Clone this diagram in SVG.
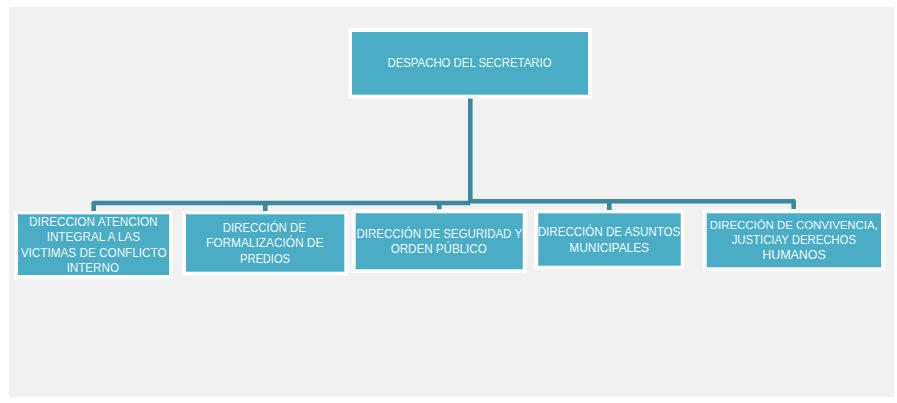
<svg xmlns="http://www.w3.org/2000/svg" width="897" height="403" viewBox="0 0 897 403">
<defs>
<style>
.bg{fill:#f1f1f1}
.frame{fill:#ffffff}
.box{fill:#4bacc6}
.lbl{font-family:"Liberation Sans",Arial,sans-serif;font-size:13px;fill:#eef8fb;text-anchor:middle}
.conn{fill:none;stroke:#3a899f;stroke-width:4.6;stroke-linejoin:round;stroke-linecap:butt}
</style>
</defs>
<rect class="bg" x="9" y="7" width="885" height="390"/>
<g id="connectors">
<path class="conn" d="M470.3,98 V203"/>
<path class="conn" d="M93.7,211 V203 H470.3"/>
<path class="conn" d="M470.3,201.2 H793.7 V209"/>
<path class="conn" d="M265.3,203 V211"/>
<path class="conn" d="M439.3,203 V210"/>
<path class="conn" d="M609.3,201.2 V210"/>
</g>
<g id="despacho">
<rect class="frame" x="348" y="28" width="244" height="70.5"/>
<rect class="box" x="352" y="32" width="236" height="62.7"/>
<text class="lbl" x="469.5" y="67.3" textLength="164" lengthAdjust="spacingAndGlyphs">DESPACHO DEL SECRETARIO</text>
</g>
<g id="victimas">
<rect class="frame" x="14" y="211" width="158.7" height="68.3"/>
<rect class="box" x="18" y="214.3" width="151" height="60.7"/>
<text class="lbl" x="93.3" y="225.6" textLength="128.7" lengthAdjust="spacingAndGlyphs">DIRECCION ATENCION</text>
<text class="lbl" x="93.3" y="241" textLength="93.3" lengthAdjust="spacingAndGlyphs">INTEGRAL A LAS</text>
<text class="lbl" x="93.7" y="256.7" textLength="146" lengthAdjust="spacingAndGlyphs">VICTIMAS DE CONFLICTO</text>
<text class="lbl" x="92.8" y="272.3" textLength="52.3" lengthAdjust="spacingAndGlyphs">INTERNO</text>
</g>
<g id="formalizacion">
<rect class="frame" x="182.3" y="211" width="166" height="64.7"/>
<rect class="box" x="186" y="214.3" width="158.3" height="57.4"/>
<text class="lbl" x="264.3" y="231.7" textLength="83.3" lengthAdjust="spacingAndGlyphs">DIRECCIÓN DE</text>
<text class="lbl" x="264.7" y="246.7" textLength="117.3" lengthAdjust="spacingAndGlyphs">FORMALIZACIÓN DE</text>
<text class="lbl" x="265" y="262.7" textLength="50" lengthAdjust="spacingAndGlyphs">PREDIOS</text>
</g>
<g id="seguridad">
<rect class="frame" x="351.7" y="209.3" width="175" height="64"/>
<rect class="box" x="355.7" y="213.3" width="167" height="56"/>
<text class="lbl" x="439.3" y="237.7" textLength="165.5" lengthAdjust="spacingAndGlyphs">DIRECCIÓN DE SEGURIDAD Y</text>
<text class="lbl" x="438.7" y="253.3" textLength="96" lengthAdjust="spacingAndGlyphs">ORDEN PÚBLICO</text>
</g>
<g id="municipales">
<rect class="frame" x="534" y="210" width="150.3" height="59.3"/>
<rect class="box" x="538.3" y="213.3" width="142.4" height="52.4"/>
<text class="lbl" x="609" y="236" textLength="142.5" lengthAdjust="spacingAndGlyphs">DIRECCIÓN DE ASUNTOS</text>
<text class="lbl" x="609.2" y="251.7" textLength="79.7" lengthAdjust="spacingAndGlyphs">MUNICIPALES</text>
</g>
<g id="convivencia">
<rect class="frame" x="702.7" y="209.3" width="182.3" height="61.7"/>
<rect class="box" x="706.7" y="213.3" width="174.3" height="54"/>
<text class="lbl" x="793.8" y="229" style="font-size:11.6px" textLength="168" lengthAdjust="spacingAndGlyphs">DIRECCIÓN DE CONVIVENCIA,</text>
<text class="lbl" x="793.8" y="244.2" textLength="124.3" lengthAdjust="spacingAndGlyphs">JUSTICIAY DERECHOS</text>
<text class="lbl" x="794" y="259.4" textLength="63.7" lengthAdjust="spacingAndGlyphs">HUMANOS</text>
</g>
</svg>
